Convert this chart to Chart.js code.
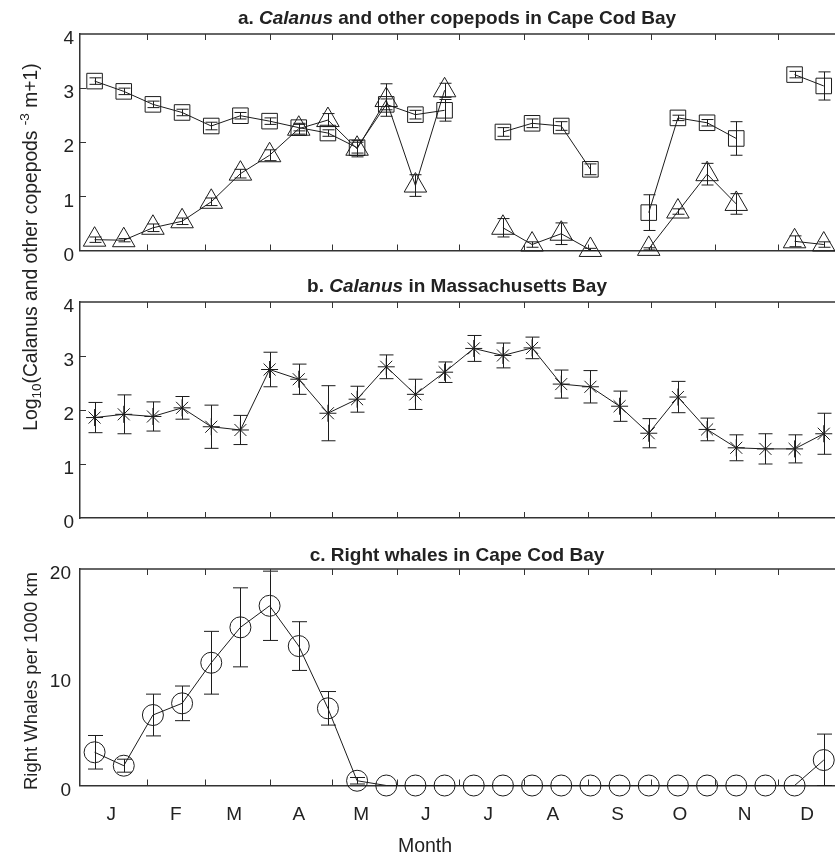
<!DOCTYPE html>
<html><head><meta charset="utf-8">
<script src="https://cdn.jsdelivr.net/npm/chart.js@4.4.1/dist/chart.umd.min.js"></script>
<style>
html,body{margin:0;padding:0;background:#fff;overflow:hidden;width:835px;height:859px;}
canvas{position:absolute;left:0;top:0;}
.ttl{position:absolute;font-family:"Liberation Sans",Arial,sans-serif;font-weight:bold;font-size:19px;line-height:19px;color:#222;white-space:nowrap;transform:translateX(-50%);}
.txt{position:absolute;font-family:"Liberation Sans",Arial,sans-serif;font-size:18.5px;line-height:19px;color:#222;white-space:nowrap;}
.rot{transform:translate(-50%,-50%) rotate(-90deg);}
sub,sup{font-size:13.5px;line-height:0;}
</style></head><body>
<canvas id="ca" width="835" height="859"></canvas>
<canvas id="cb" width="835" height="859"></canvas>
<canvas id="cc" width="835" height="859"></canvas>
<div class="ttl" style="left:457px;top:8px">a. <i>Calanus</i> and other copepods in Cape Cod Bay</div>
<div class="ttl" style="left:457px;top:276px">b. <i>Calanus</i> in Massachusetts Bay</div>
<div class="ttl" style="left:457px;top:545px">c. Right whales in Cape Cod Bay</div>
<div class="txt rot" style="left:30px;top:247px;font-size:19.3px">Log<sub>10</sub>(Calanus and other copepods <sup>-3</sup> m+1)</div>
<div class="txt rot" style="left:30px;top:681px">Right Whales per 1000 km</div>
<div class="txt" style="left:425px;top:836px;font-size:19.5px;transform:translateX(-50%)">Month</div>
<script>
// ---- data ----
const monthLetters = ['J','F','M','A','M','J','J','A','S','O','N','D'];
const monthStarts = [1,32,60,91,121,152,182,213,244,274,305,335];
const sampleDays = [7,21,35,49,63,77,91,105,119,133,147,161,175,189,203,217,231,245,259,273,287,301,315,329,343,357];

const calanusCCB = [3.13,2.94,2.70,2.55,2.30,2.49,2.39,2.27,2.17,1.90,2.70,2.51,2.59,null,2.19,2.35,2.30,1.50,null,0.70,2.45,2.36,2.07,null,3.25,3.04];
const calanusCCBErr = [0.06,0.06,0.06,0.06,0.07,0.06,0.06,0.06,0.06,0.1,0.1,0.08,0.2,null,0.08,0.08,0.08,0.1,null,0.33,0.05,0.06,0.31,null,0.06,0.26];
const otherCCB = [0.20,0.19,0.42,0.54,0.90,1.42,1.76,2.25,2.41,1.88,2.78,1.20,2.96,null,0.42,0.11,0.31,0.01,null,0.03,0.72,1.41,0.86,null,0.17,0.11];
const otherCCBErr = [0.05,0.03,0.07,0.06,0.07,0.08,0.1,0.1,0.12,0.15,0.3,0.2,0.13,null,0.17,0.05,0.2,0.03,null,0.02,0.05,0.2,0.19,null,0.1,0.05];

const calanusMB = [1.86,1.92,1.88,2.04,1.69,1.63,2.75,2.57,1.94,2.20,2.80,2.29,2.70,3.14,3.01,3.15,2.48,2.43,2.07,1.57,2.24,1.64,1.30,1.28,1.28,1.56];
const calanusMBErr = [0.28,0.36,0.27,0.21,0.40,0.27,0.32,0.28,0.51,0.24,0.22,0.28,0.19,0.24,0.23,0.20,0.26,0.30,0.28,0.27,0.29,0.21,0.24,0.28,0.26,0.38];

const whales = [3.07,1.83,6.51,7.59,11.34,14.61,16.60,12.88,7.13,0.44,0,0,0,0,0,0,0,0,0,0,0,0,0,0,0,2.35];
const whalesErr = [1.55,0.6,1.93,1.6,2.9,3.65,3.2,2.25,1.55,0.3,0,0,0,0,0,0,0,0,0,0,0,0,0,0,0,2.4];

const logTicks = [0,1,2,3,4];
const whaleTicks = [0,10,20];

// ---- helpers ----
const INK = '#1c1c1c';
const FONT = {family:'"Liberation Sans", Arial, sans-serif', size:19};
const toXY = (vals) => vals.map((v,i)=>({x:sampleDays[i], y:v}));

const errorBars = {
  id:'errorBars',
  beforeDatasetsDraw(chart){
    const {ctx, scales:{x,y}} = chart;
    ctx.save();
    ctx.strokeStyle = INK; ctx.lineWidth = 1;
    chart.data.datasets.forEach(ds=>{
      if(!ds.err) return;
      const cap = ds.capHalf || 7;
      ds.data.forEach((p,j)=>{
        const e = ds.err[j];
        if(p.y==null || !e) return;
        const px = Math.round(x.getPixelForValue(p.x))+0.5;
        const lo = y.getPixelForValue(Math.max(p.y-e, y.min));
        const hi = y.getPixelForValue(p.y+e);
        ctx.beginPath();
        ctx.moveTo(px,lo); ctx.lineTo(px,hi);
        ctx.moveTo(px-cap,hi); ctx.lineTo(px+cap,hi);
        ctx.moveTo(px-cap,lo); ctx.lineTo(px+cap,lo);
        ctx.stroke();
      });
    });
    ctx.restore();
  }
};

const frame = {
  id:'frame',
  afterDraw(chart, args, opts){
    const {ctx, chartArea:{left,right,top,bottom}, scales:{x,y}} = chart;
    ctx.save();
    ctx.strokeStyle = '#333';
    ctx.lineWidth = 1.5;
    ctx.beginPath(); ctx.moveTo(left, top); ctx.lineTo(right, top); ctx.stroke();
    ctx.lineWidth = 1;
    ctx.beginPath();
    monthStarts.slice(1).forEach(d=>{
      const px = Math.round(x.getPixelForValue(d))+0.5;
      ctx.moveTo(px, top); ctx.lineTo(px, top+6);
      ctx.moveTo(px, bottom); ctx.lineTo(px, bottom-6);
    });
    (opts.yInner||[]).forEach(v=>{
      const py = Math.round(y.getPixelForValue(v))+0.5;
      ctx.moveTo(left, py); ctx.lineTo(left+6, py);
    });
    ctx.stroke();
    ctx.restore();
  }
};

function makeChart(id, cfg){
  const top = cfg.top, bottom = cfg.bottom;
  return new Chart(document.getElementById(id), {
    type:'line',
    data:{datasets:cfg.datasets},
    plugins:[errorBars, frame],
    options:{
      responsive:false, animation:false, devicePixelRatio:1,
      layout:{autoPadding:false, padding:{top:top, left:0, right:0, bottom:0}},
      plugins:{legend:{display:false}, tooltip:{enabled:false}, title:{display:false},
               frame:{yInner:cfg.yInner}},
      scales:{
        x:{type:'linear', min:0, max:362.4,
           grid:{display:false, drawTicks:false},
           border:{display:true, width:1.5, color:'#333'},
           afterBuildTicks: s => { s.ticks = monthStarts.map(d=>({value:d+14})); },
           ticks:{display:cfg.showMonths, autoSkip:false, maxRotation:0, padding:18, color:'#222', font:FONT,
                  callback:(v,i)=>monthLetters[i]},
           afterFit: s => { s.height = 859 - bottom; }
        },
        y:{type:'linear', min:cfg.ymin, max:cfg.ymax,
           grid:{display:false, drawTicks:false},
           border:{display:true, width:1.5, color:'#333'},
           afterBuildTicks: s => { s.ticks = cfg.yTicks.map(v=>({value:v})); },
           ticks:{color:'#222', font:FONT, padding:cfg.ypad, labelOffset:5},
           afterFit: s => { s.width = 80; }
        }
      }
    }
  });
}

const lineDs = (vals, err, style, r, capHalf) => ({
  data: toXY(vals), err: err, capHalf: capHalf,
  borderColor: INK, borderWidth: 1, spanGaps: false, clip: false, tension: 0,
  pointStyle: style, pointRadius: r, pointHoverRadius: r,
  pointBorderColor: INK, pointBorderWidth: 1, pointBackgroundColor: 'rgba(0,0,0,0)'
});

makeChart('ca', {top:34, bottom:250.5, ymin:0, ymax:4, yTicks:logTicks, yInner:[1,2,3], ypad:6, showMonths:false,
  datasets:[ lineDs(calanusCCB, calanusCCBErr, 'rect', 11, 6),
             lineDs(otherCCB, otherCCBErr, 'triangle', 13, 6) ]});
makeChart('cb', {top:302, bottom:518, ymin:0, ymax:4, yTicks:logTicks, yInner:[1,2,3], ypad:6, showMonths:false,
  datasets:[ lineDs(calanusMB, calanusMBErr, 'star', 8.5, 7) ]});
makeChart('cc', {top:569, bottom:785.5, ymin:0, ymax:20, yTicks:whaleTicks, yInner:[], ypad:9, showMonths:true,
  datasets:[ lineDs(whales, whalesErr, 'circle', 10.5, 7.5) ]});
</script>
</body></html>
